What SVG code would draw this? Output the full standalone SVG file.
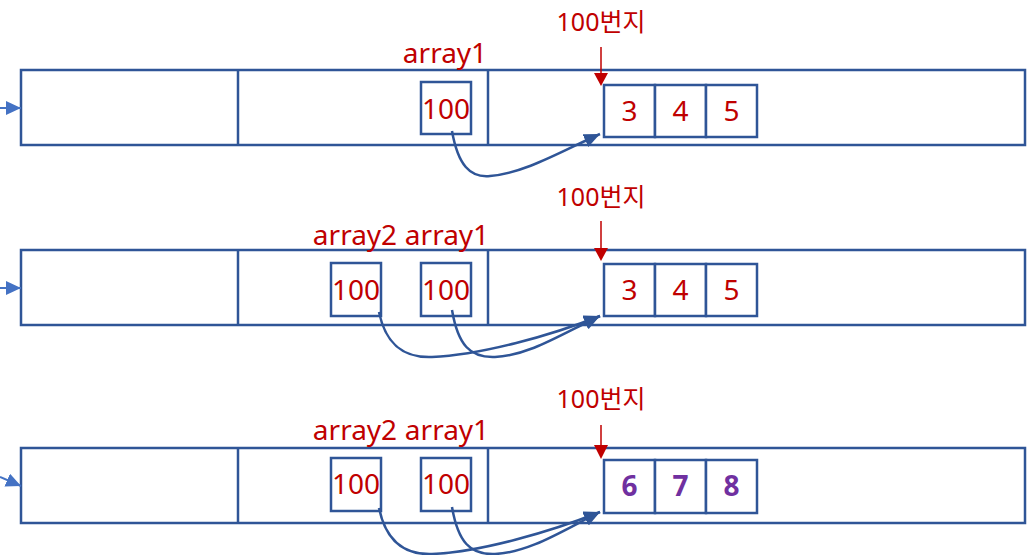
<svg xmlns="http://www.w3.org/2000/svg" width="1031" height="555" viewBox="0 0 1031 555">
<style>
.box{fill:#fff;stroke:#2F5597;stroke-width:2.5}
.div{stroke:#2F5597;stroke-width:2.5}
.t{font-family:"Noto Sans","Noto Sans CJK KR",sans-serif;fill:#C00000;font-size:28px;text-anchor:middle}
.addr{font-size:25px}
.p{fill:#7030A0;font-weight:bold}
.con{fill:none;stroke:#2F5597;stroke-width:2.5}
.lft{fill:none;stroke:#4472C4;stroke-width:2}
.red{stroke:#C00000;stroke-width:1.5}
</style>
<defs>
<marker id="ah" markerUnits="userSpaceOnUse" markerWidth="18" markerHeight="14" refX="16" refY="7" orient="auto">
<path d="M0,0 L16,7 L0,14 Z" fill="#2F5597"/>
</marker>
<marker id="lh" markerUnits="userSpaceOnUse" markerWidth="16" markerHeight="14" refX="15" refY="7" orient="auto">
<path d="M0,0 L15,7 L0,14 Z" fill="#4472C4"/>
</marker>
</defs>

<g id="row1">
<rect class="box" x="21" y="70" width="1004" height="75"/>
<line class="div" x1="238" y1="70" x2="238" y2="145"/>
<line class="div" x1="488" y1="70" x2="488" y2="145"/>
<rect class="box" x="421" y="82" width="50" height="52"/>
<text class="t" x="446" y="119">100</text>
<text class="t" x="445" y="63">array1</text>
<rect class="box" x="604" y="85" width="51" height="52"/>
<rect class="box" x="655" y="85" width="51" height="52"/>
<rect class="box" x="706" y="85" width="51" height="52"/>
<text class="t" x="629.5" y="121">3</text>
<text class="t" x="680.5" y="121">4</text>
<text class="t" x="731.5" y="121">5</text>
<text class="t addr" x="601" y="31">100번지</text>
<line class="red" x1="601" y1="47" x2="601" y2="75"/>
<path d="M594,73 L608,73 L601,86 Z" fill="#C00000"/>
</g>

<g id="row2">
<rect class="box" x="21" y="250" width="1004" height="75"/>
<line class="div" x1="238" y1="250" x2="238" y2="325"/>
<line class="div" x1="488" y1="250" x2="488" y2="325"/>
<rect class="box" x="331" y="263" width="50" height="53"/>
<text class="t" x="356" y="300">100</text>
<rect class="box" x="421" y="263" width="50" height="53"/>
<text class="t" x="446" y="300">100</text>
<text class="t" x="355" y="245">array2</text>
<text class="t" x="447" y="245">array1</text>
<rect class="box" x="604" y="264" width="51" height="52"/>
<rect class="box" x="655" y="264" width="51" height="52"/>
<rect class="box" x="706" y="264" width="51" height="52"/>
<text class="t" x="629.5" y="300">3</text>
<text class="t" x="680.5" y="300">4</text>
<text class="t" x="731.5" y="300">5</text>
<text class="t addr" x="601" y="206">100번지</text>
<line class="red" x1="601" y1="221" x2="601" y2="250"/>
<path d="M594,248 L608,248 L601,261 Z" fill="#C00000"/>
</g>

<g id="row3">
<rect class="box" x="21" y="448" width="1004" height="75"/>
<line class="div" x1="238" y1="448" x2="238" y2="523"/>
<line class="div" x1="488" y1="448" x2="488" y2="523"/>
<rect class="box" x="331" y="458" width="50" height="53"/>
<text class="t" x="356" y="494">100</text>
<rect class="box" x="421" y="458" width="50" height="53"/>
<text class="t" x="446" y="494">100</text>
<text class="t" x="355" y="440">array2</text>
<text class="t" x="447" y="440">array1</text>
<rect class="box" x="604" y="460" width="51" height="53"/>
<rect class="box" x="655" y="460" width="51" height="53"/>
<rect class="box" x="706" y="460" width="51" height="53"/>
<text class="t p" x="629.5" y="496">6</text>
<text class="t p" x="680.5" y="496">7</text>
<text class="t p" x="731.5" y="496">8</text>
<text class="t addr" x="601" y="408">100번지</text>
<line class="red" x1="601" y1="425" x2="601" y2="447"/>
<path d="M594,445 L608,445 L601,459 Z" fill="#C00000"/>
</g>

<g id="connectors">
<path class="lft" d="M0,108 L21,108" marker-end="url(#lh)"/>
<path class="lft" d="M0,288 L21,288" marker-end="url(#lh)"/>
<path class="lft" d="M0,477 L21,486" marker-end="url(#lh)"/>
<path class="con" d="M452,131 C458,165 470,178 490,176 C525,173 560,152 600,134" marker-end="url(#ah)"/>
<path class="con" d="M379,312 C386,346 405,358 432,357 C480,355 550,336 600,316" marker-end="url(#ah)"/>
<path class="con" d="M452,310 C458,345 470,358 495,357 C530,355 560,335 600,316" marker-end="url(#ah)"/>
<path class="con" d="M379,508 C386,542 405,555 432,554 C480,552 550,532 600,512" marker-end="url(#ah)"/>
<path class="con" d="M452,507 C458,542 470,555 495,554 C530,552 560,532 600,512" marker-end="url(#ah)"/>
</g>
</svg>
